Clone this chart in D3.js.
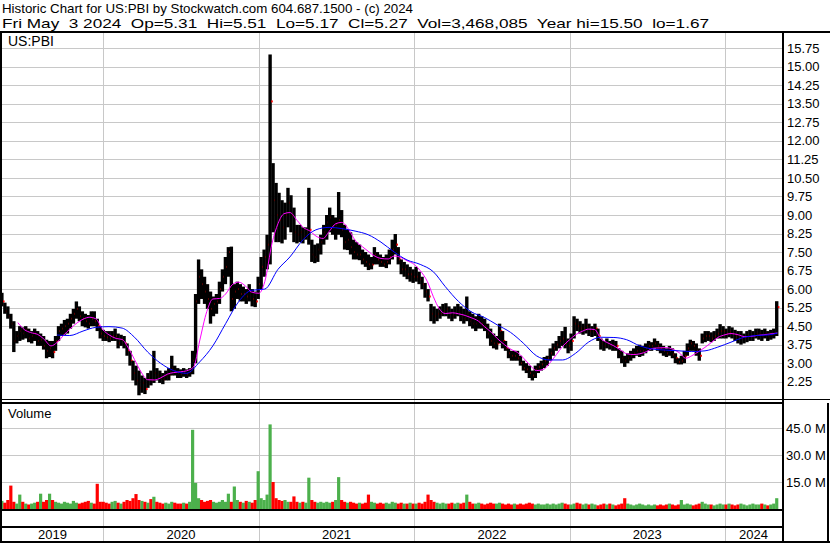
<!DOCTYPE html>
<html>
<head>
<meta charset="utf-8">
<script src="https://cdn.jsdelivr.net/npm/d3@7"></script>
<style>
  body { margin: 0; background: #fff; }
  svg { display: block; font-family: "Liberation Sans", Arial, sans-serif; }
</style>
</head>
<body>
<div id="chart"></div>
<script>
// weekly bars, one value per week (Mondays from 6 May 2019 to 29 Apr 2024)
const hi2019 = [5.85,5.45,5.3,5.0,4.7,4.3,4.5,4.45,4.5,4.4, 4.3,4.4,4.3,4.2,4.1,3.95,3.9,3.9,4.1,4.5, 4.6,4.75,4.8,5.0,5.2,5.5,5.3,5.1,5.0,4.95, 5.1,5.1,4.8,4.5,4.35];
const lo2019 = [5.3,5.0,4.8,4.4,3.45,3.8,3.9,3.95,4.0,3.85, 3.8,3.9,3.7,3.7,3.55,3.2,3.25,3.2,3.5,3.9, 4.1,4.15,4.2,4.4,4.6,4.8,4.7,4.5,4.45,4.4, 4.5,4.5,4.3,4.0,3.9];
const cl2019 = [5.5,5.1,4.9,4.6,3.9,4.1,4.3,4.2,4.35,4.0, 4.1,4.2,3.9,3.95,3.7,3.5,3.6,3.45,3.9,4.3, 4.4,4.5,4.6,4.8,5.0,5.2,4.9,4.8,4.7,4.6, 4.8,4.7,4.5,4.2,4.1];
const vol2019 = [4.5,3.5,5,13,4,3,8,4,3,2.5, 3,3.5,4,8.5,4,5,8.5,5,4,3.5, 3,4,3.5,3,4.5,3.5,3,3.5,4,4.5, 3.5,3,14,4,4];

const hi2020 = [4.3,4.3,4.3,4.4,4.2,4.15,4.1,3.8,3.5,3.1, 2.9,2.7,2.5,2.4,2.6,2.7,3.5,2.8,2.7,2.6, 2.7,2.8,3.3,2.9,2.8,2.75,2.8,2.75,2.8,3.5, 5.8,7.2,6.8,6.5,6.2,5.9,5.7,5.8,6.3,6.8, 7.3,7.7,7.72,6.2,6.3,6.2,6.1,6.0,6.2,6.0, 5.9,6.5];
const lo2020 = [3.9,3.85,3.9,3.9,3.6,3.7,3.6,3.3,2.9,2.3, 2.1,1.7,1.8,1.75,2.0,2.1,2.2,2.3,2.2,2.15, 2.3,2.3,2.5,2.5,2.4,2.4,2.45,2.4,2.45,2.55, 3.0,5.4,5.6,5.4,5.2,4.6,4.9,5.0,5.4,5.9, 6.2,6.5,5.1,5.2,5.6,5.5,5.5,5.4,5.5,5.3, 5.27,5.6];
const cl2020 = [4.05,4.0,4.1,4.1,3.8,3.95,3.8,3.5,3.1,2.6, 2.3,2.0,2.2,1.95,2.4,2.3,2.6,2.5,2.4,2.35, 2.5,2.55,2.8,2.7,2.6,2.55,2.6,2.55,2.65,3.1, 5.5,6.5,6.2,5.9,5.6,5.2,5.4,5.5,6.0,6.5, 6.9,7.5,5.6,5.9,6.0,5.8,5.8,5.7,5.9,5.6, 5.5,6.2];
const vol2020 = [3.5,3,4,4.5,3.5,3,4,5,4.5,6, 8.3,5,4.5,4,3.5,5.5,6.8,4,3.5,3, 3.5,3,4,3.5,3,3,3.5,3,4,44, 14.5,6,5,4,4.5,5,4,3.5,4,5, 4,8.5,4,12.5,5,4,3.5,4.5,4,3.5, 5,21];

const hi2021 = [7.3,7.6,8.2,15.5,11.1,10.3,9.9,9.6,9.5,10.1, 9.8,9.3,8.6,8.6,8.5,8.5,10.1,8.0,7.8,7.85, 8.2,8.6,9.0,9.3,9.0,8.9,9.93,9.2,8.6,8.4, 8.3,8.0,7.9,7.8,7.6,7.5,7.4,7.3,7.7,7.5, 7.4,7.3,7.4,7.6,8.0,8.23,7.7,7.2,7.1,7.0, 6.9,6.8];
const lo2021 = [6.0,6.5,6.8,7.0,8.3,7.9,7.9,7.85,8.0,8.5, 8.3,7.9,7.85,7.9,7.85,8.0,7.8,7.1,7.05,7.1, 7.4,7.8,8.0,8.3,8.2,8.0,8.2,8.1,7.6,7.58, 7.4,7.2,7.2,7.17,7.0,6.9,6.77,6.8,7.0,7.0, 6.9,6.9,6.85,7.0,7.2,7.4,7.0,6.6,6.5,6.4, 6.3,6.25];
const cl2021 = [6.9,7.3,7.8,13.6,9.6,9.0,8.8,8.5,9.0,9.5, 9.0,8.3,8.2,8.3,8.1,8.2,8.4,7.4,7.3,7.6, 7.9,8.3,8.7,8.9,8.5,8.6,8.8,8.4,7.9,8.0, 7.7,7.5,7.4,7.4,7.2,7.1,7.0,7.0,7.4,7.2, 7.1,7.0,7.1,7.3,7.6,7.8,7.2,6.8,6.8,6.6, 6.6,6.5];
const vol2021 = [6,5,8,47,15,6,5,4.5,5,4, 4,7,4,3.5,4,3.5,17.4,5,4,3.5, 4,3.5,4,3.5,4,5,17.7,5,4,3.5, 4,3.5,3,3.5,3,3.5,8,4,3.5,3, 3.5,3,3.5,3,4,3.5,3,3.5,3,3, 3.5,3];

const hi2022 = [6.9,6.7,6.5,6.25,6.0,5.4,5.3,5.2,5.3,5.4, 5.43,5.3,5.2,5.3,5.4,5.3,5.2,5.7,5.1,5.0, 4.9,5.0,4.9,4.8,4.6,4.4,4.2,4.1,4.6,4.3, 3.9,3.6,3.5,3.5,3.5,3.3,3.1,3.0,2.9,2.7, 2.9,3.0,3.1,3.25,3.3,3.6,3.8,3.9,4.1,4.3, 4.47,4.0];
const lo2022 = [6.3,6.2,6.0,5.65,5.5,4.7,4.6,4.7,4.8,4.9, 4.9,4.8,4.7,4.8,4.9,4.7,4.6,4.7,4.5,4.4, 4.3,4.4,4.4,4.3,4.0,3.7,3.6,3.55,3.8,3.6, 3.5,3.2,3.1,3.1,3.1,2.9,2.7,2.6,2.4,2.3, 2.4,2.6,2.7,2.8,2.9,3.1,3.3,3.5,3.6,3.7, 3.6,3.4];
const cl2022 = [6.5,6.4,6.2,5.9,5.7,5.0,4.9,5.0,5.0,5.1, 5.2,5.0,4.9,5.0,5.1,4.9,4.8,5.0,4.7,4.6, 4.6,4.7,4.6,4.5,4.2,3.9,3.8,3.8,4.3,3.9, 3.6,3.4,3.3,3.3,3.2,3.0,2.8,2.75,2.6,2.5, 2.75,2.85,2.95,3.1,3.2,3.4,3.6,3.75,3.9,4.0, 3.8,3.7];
const vol2022 = [3,3.5,3,4,8,5,4,3.5,3,3.5, 3,3,3.5,3,3.5,3,3.5,8,4,3, 3,3.5,3,2.5,3,3.5,3,3,3.5,3, 2.5,3,2.5,3,2.5,3,2.5,3,3.5,3, 2.5,3,2.5,2.5,3,2.5,3,2.5,3,3.5, 3,2.5];

const hi2023 = [4.2,4.9,4.8,4.7,4.6,4.8,4.6,4.5,4.6,4.4, 4.0,3.9,4.0,3.9,3.95,3.9,3.6,3.5,3.3,3.4, 3.5,3.6,3.7,3.75,3.7,3.8,3.9,3.85,4.0,3.9, 3.8,3.7,3.6,3.7,3.6,3.4,3.2,3.3,3.5,3.8, 3.95,3.9,3.8,3.6,4.2,4.3,4.3,4.25,4.3,4.4, 4.58,4.5];
const lo2023 = [3.5,4.0,4.3,4.2,4.15,4.2,4.1,4.06,4.1,3.9, 3.55,3.5,3.6,3.55,3.5,3.5,3.2,3.0,2.85,3.0, 3.1,3.2,3.3,3.25,3.3,3.4,3.5,3.5,3.6,3.5, 3.4,3.3,3.25,3.3,3.2,3.0,2.95,2.95,3.0,3.3, 3.5,3.5,3.3,3.1,3.8,3.85,3.9,3.85,3.9,4.0, 4.0,4.0];
const cl2023 = [3.9,4.6,4.5,4.4,4.4,4.5,4.3,4.3,4.4,4.1, 3.8,3.7,3.8,3.7,3.75,3.7,3.4,3.2,3.1,3.2, 3.3,3.4,3.5,3.5,3.5,3.6,3.7,3.7,3.8,3.7, 3.6,3.5,3.4,3.5,3.35,3.2,3.05,3.1,3.3,3.6, 3.8,3.7,3.5,3.3,4.0,4.1,4.1,4.0,4.1,4.2, 4.3,4.3];
const vol2023 = [2.5,3,3.5,3,2.5,3,2.5,3,2.5,2, 2.5,3,2.5,3,2.5,2,2.5,3,6,3, 2.5,2,2.5,3,2.5,2,2.5,2,2.5,2, 2.5,2,2.5,3,2.5,2,2.5,5,2.5,3, 2.5,2,2.5,3,4,3,2.5,2.5,2,2.5, 3,2.5];

const hi2024 = [4.4,4.5,4.45,4.35,4.3,4.3,4.2,4.3,4.35,4.3, 4.4,4.4,4.35,4.4,4.3,4.35,4.4,5.51];
const lo2024 = [4.0,4.05,4.0,3.9,3.8,3.75,3.8,3.85,3.9,3.9, 4.0,3.95,3.9,4.0,3.9,3.95,4.0,4.1];
const cl2024 = [4.2,4.25,4.2,4.1,4.0,4.0,4.0,4.1,4.1,4.1, 4.2,4.2,4.1,4.2,4.1,4.15,4.2,5.27];
const vol2024 = [2.5,3,2.5,2,2.5,3,2.5,2,2.5,3, 2.5,2.5,3,2.5,2,2.5,3,6];

// magenta average: 15 Jun 2019, then the 1st and 15th of each month, then 3 May 2024
const pinkMA = [4.64,
  4.35,4.24, 4.16,3.98, 3.7,3.84, 4.14,4.38, 4.63,4.78, 4.86,4.8,
  4.35,4.15, 4.0,3.96, 3.6,3.15, 2.6,2.33, 2.32,2.4, 2.56,2.62, 2.65,2.69, 2.85,3.9, 5.1,5.6, 5.62,5.8, 6.2,6.28, 6.12,5.88,
  5.83,6.3, 7.85,8.65, 9.05,9.1, 8.78,8.5, 8.35,8.15, 8.05,8.33, 8.65,8.7, 8.39,7.98, 7.72,7.53, 7.33,7.24, 7.22,7.34, 7.28,7.15,
  7.0,6.75, 6.3,5.69, 5.2,5.01, 5.04,5.0, 4.93,4.84, 4.7,4.48, 4.25,4.0, 3.75,3.57, 3.43,3.2, 2.9,2.7, 2.75,3.0, 3.35,3.67,
  3.95,4.15, 4.3,4.38, 4.36,4.0, 3.82,3.7, 3.53,3.38, 3.35,3.38, 3.47,3.6, 3.62,3.63, 3.56,3.43, 3.2,3.3, 3.48,3.64, 3.85,4.04,
  4.15,4.2, 4.15,4.08, 4.08,4.12, 4.15,4.18,
  4.22];
// blue average: 15th of each month from Sep 2019, then 3 May 2024
const blueMA = [4.14,4.12,4.3,4.45,
  4.48,4.42,4.05,3.45,3.0,2.7,2.59,3.05,3.7,4.6,5.5,5.95,
  6.0,6.8,7.3,8.0,8.4,8.5,8.45,8.35,8.2,7.9,7.5,7.18,
  7.0,6.7,6.1,5.5,5.08,4.85,4.55,4.25,3.8,3.3,3.13,3.13,
  3.4,3.86,4.05,4.04,3.95,3.7,3.57,3.53,3.5,3.47,3.5,3.65,
  3.85,4.05,4.12,4.15,4.22];

const priceTicks = [2.25,3.00,3.75,4.50,5.25,6.00,6.75,7.50,8.25,9.00,9.75,10.50,11.25,12.00,12.75,13.50,14.25,15.00,15.75];
const volTicks = [15,30,45];
const yearLabels = ["2019","2020","2021","2022","2023","2024"];

const headerLine1 = "Historic Chart for US:PBI by Stockwatch.com 604.687.1500 - (c) 2024";
const headerLine2 = "Fri May  3 2024  Op=5.31  Hi=5.51  Lo=5.17  Cl=5.27  Vol=3,468,085  Year hi=15.50  lo=1.67";

const width = 830, height = 543;
const plot = { left: 2, right: 782, priceTop: 33, priceBottom: 399, volTop: 403, volBottom: 509 };

const hi = [].concat(hi2019, hi2020, hi2021, hi2022, hi2023, hi2024);
const lo = [].concat(lo2019, lo2020, lo2021, lo2022, lo2023, lo2024);
const cl = [].concat(cl2019, cl2020, cl2021, cl2022, cl2023, cl2024);
const vol = [].concat(vol2019, vol2020, vol2021, vol2022, vol2023, vol2024);
const weeks = d3.timeMonday.range(new Date(2019, 4, 6), new Date(2024, 4, 4));
const bars = weeks.map((d, i) => ({ date: d3.timeHour.offset(d, 60), hi: hi[i], lo: lo[i], cl: cl[i], vol: vol[i],
  up: i === 0 ? true : cl[i] >= cl[i - 1] }));

const lastDay = new Date(2024, 4, 3);
const pinkDates = [new Date(2019, 5, 15)]
  .concat(d3.timeMonth.range(new Date(2019, 6, 1), new Date(2024, 4, 1)).flatMap(d => [d, d3.timeDay.offset(d, 14)]))
  .concat([lastDay]);
const blueDates = d3.timeMonth.range(new Date(2019, 8, 1), new Date(2024, 4, 1)).map(d => d3.timeDay.offset(d, 14)).concat([lastDay]);

const x = d3.scaleTime().domain([new Date(2020, 0, 1), new Date(2024, 0, 1)]).range([103, 725]);
const y = d3.scaleLinear().domain([2.25, 15.75]).range([381.7, 48.3]);
const yv = d3.scaleLinear().domain([0, 45]).range([plot.volBottom, 428]);
const step = x(new Date(2020, 0, 8)) - x(new Date(2020, 0, 1));

const svg = d3.select("#chart").append("svg")
  .attr("width", width).attr("height", height)
  .style("background", "#fff");

// grid
const grid = svg.append("g").attr("stroke", "#c8c8c8").attr("stroke-width", 1).attr("shape-rendering", "crispEdges");
grid.selectAll(".hp").data(priceTicks).enter().append("line")
  .attr("x1", plot.left).attr("x2", plot.right)
  .attr("y1", d => Math.round(y(d)) + 0.5).attr("y2", d => Math.round(y(d)) + 0.5);
grid.selectAll(".hv").data(volTicks).enter().append("line")
  .attr("x1", plot.left).attr("x2", plot.right)
  .attr("y1", d => Math.round(yv(d)) + 0.5).attr("y2", d => Math.round(yv(d)) + 0.5);

const yearStarts = yearLabels.slice(1).map(s => new Date(+s, 0, 1));
grid.selectAll(".vx").data(yearStarts).enter().append("line")
  .attr("x1", d => Math.round(x(d)) + 0.5).attr("x2", d => Math.round(x(d)) + 0.5)
  .attr("y1", plot.priceTop).attr("y2", 541);

// price bars (black high-low, red close mark on the right, hidden by the next bar unless outside it)
const priceG = svg.append("g");
bars.forEach(b => {
  const cx = x(b.date);
  priceG.append("rect")
    .attr("x", cx - step / 2 - 0.2).attr("width", step + 0.4)
    .attr("y", y(b.hi)).attr("height", Math.max(1, y(b.lo) - y(b.hi)))
    .attr("fill", "#000");
  priceG.append("rect")
    .attr("x", cx + step / 2 - 0.4).attr("width", 1.6)
    .attr("y", y(b.cl) - 1).attr("height", 2)
    .attr("fill", "#ff0000");
});

// moving averages
const line = d3.line().x(d => x(d[0])).y(d => y(d[1])).curve(d3.curveMonotoneX);
svg.append("path").datum(pinkDates.map((d, i) => [d, pinkMA[i]]))
  .attr("d", line).attr("fill", "none").attr("stroke", "#ff00ff").attr("stroke-width", 1);
svg.append("path").datum(blueDates.map((d, i) => [d, blueMA[i]]))
  .attr("d", line).attr("fill", "none").attr("stroke", "#0000ff").attr("stroke-width", 1);

// volume bars
svg.append("g")
  .selectAll("rect").data(bars).enter().append("rect")
  .attr("x", d => x(d.date) - step / 2 - 0.1).attr("width", step + 0.2)
  .attr("y", d => yv(d.vol)).attr("height", d => plot.volBottom - yv(d.vol))
  .attr("fill", d => d.up ? "#4cb04c" : "#ff0000");

// frame
const frame = svg.append("g").attr("fill", "#000").attr("shape-rendering", "crispEdges");
[[0, 31, width, 2], [0, 31, 2, height - 31], [782, 31, 2, height - 31],
 [0, 399, 782, 1], [0, 402, 782, 2], [782, 399, 48, 1],
 [0, 509, 782, 2], [0, 526, 782, 2], [0, 541, width, 2], [827, 403, 2, 140]]
  .forEach(r => frame.append("rect").attr("x", r[0]).attr("y", r[1]).attr("width", r[2]).attr("height", r[3]));

// axis labels
svg.append("g").selectAll("text").data(priceTicks).enter().append("text")
  .attr("x", 787).attr("y", d => y(d)).attr("dy", "0.35em")
  .style("font-size", "13px").attr("fill", "#000")
  .text(d => d.toFixed(2));
svg.append("g").selectAll("text").data(volTicks).enter().append("text")
  .attr("x", 786).attr("y", d => yv(d)).attr("dy", "0.35em")
  .style("font-size", "13px").attr("fill", "#000")
  .text(d => d.toFixed(1) + " M");

const yearEdges = [plot.left].concat(yearStarts.map(d => x(d)), [plot.right]);
svg.append("g").selectAll("text").data(yearLabels).enter().append("text")
  .attr("x", (d, i) => (yearEdges[i] + yearEdges[i + 1]) / 2).attr("y", 539)
  .attr("text-anchor", "middle").style("font-size", "13px").attr("fill", "#000")
  .text(d => d);

// titles
svg.append("text").attr("x", 2).attr("y", 13).style("font-size", "13px")
  .attr("textLength", 411).attr("lengthAdjust", "spacingAndGlyphs").text(headerLine1);
svg.append("text").attr("x", 2).attr("y", 28).style("font-size", "13px").style("white-space", "pre")
  .attr("textLength", 707).attr("lengthAdjust", "spacingAndGlyphs").text(headerLine2);
svg.append("text").attr("x", 8).attr("y", 46).style("font-size", "14px").text("US:PBI");
svg.append("text").attr("x", 8).attr("y", 418).style("font-size", "13px").text("Volume");
</script>
</body>
</html>
